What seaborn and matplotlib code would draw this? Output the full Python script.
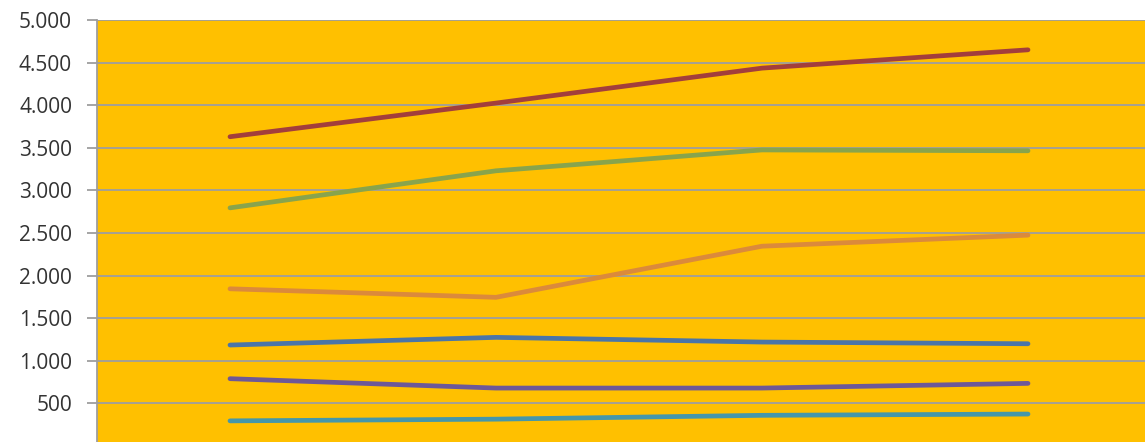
import numpy as np
import pandas as pd
import matplotlib
matplotlib.use("Agg")
import matplotlib.pyplot as plt
import seaborn as sns
from matplotlib.ticker import FuncFormatter

# values (4 periods, 6 series)
periods = [0, 1, 2, 3]
red = [3630, 4025, 4435, 4650]
green = [2795, 3230, 3475, 3465]
orange = [1845, 1745, 2345, 2475]
blue = [1185, 1275, 1220, 1200]
purple = [790, 680, 680, 735]
teal = [295, 315, 360, 375]

series_names = ["red", "green", "orange", "blue", "purple", "teal"]
series_values = [red, green, orange, blue, purple, teal]
colors = ["#A33E3C", "#88A44C", "#DB8A3B", "#4A75A8", "#6E5897", "#4597AA"]

def main():
    df = pd.DataFrame({
        "period": np.tile(periods, len(series_names)),
        "value": np.concatenate(series_values),
        "series": np.repeat(series_names, len(periods)),
    })

    sns.set_style("white")
    plt.rcParams["font.family"] = ["Open Sans", "DejaVu Sans"]

    fig = plt.figure(figsize=(11.45, 4.42), dpi=100)
    # plot area is cropped at the bottom and right in the reference
    ax = fig.add_axes([97 / 1145, -4 / 442, 1064 / 1145, 426 / 442])
    ax.set_facecolor("#FFC000")

    sns.lineplot(data=df, x="period", y="value", hue="series",
                 palette=dict(zip(series_names, colors)),
                 linewidth=3.4, legend=False, ax=ax,
                 solid_capstyle="round", solid_joinstyle="round")

    ax.set_xlim(-0.5, 3.5)
    ax.set_ylim(0, 5000)
    ax.set_yticks(np.arange(500, 5001, 500))
    ax.yaxis.set_major_formatter(FuncFormatter(lambda v, p: f"{int(v):,}".replace(",", ".")))
    ax.set_xticks([])
    ax.set_xlabel("")
    ax.set_ylabel("")
    ax.grid(axis="y", color="#9E9E9E", linewidth=1.3)
    ax.set_axisbelow(True)
    for s in ["top", "right", "bottom"]:
        ax.spines[s].set_visible(False)
    ax.spines["left"].set_color("#9E9E9E")
    ax.spines["left"].set_linewidth(1.3)
    ax.tick_params(axis="y", left=True, length=7, width=1.3, color="#9E9E9E",
                   labelsize=15, labelcolor="#333333", pad=11)

    fig.savefig("out.png", dpi=100)

if __name__ == "__main__":
    main()
